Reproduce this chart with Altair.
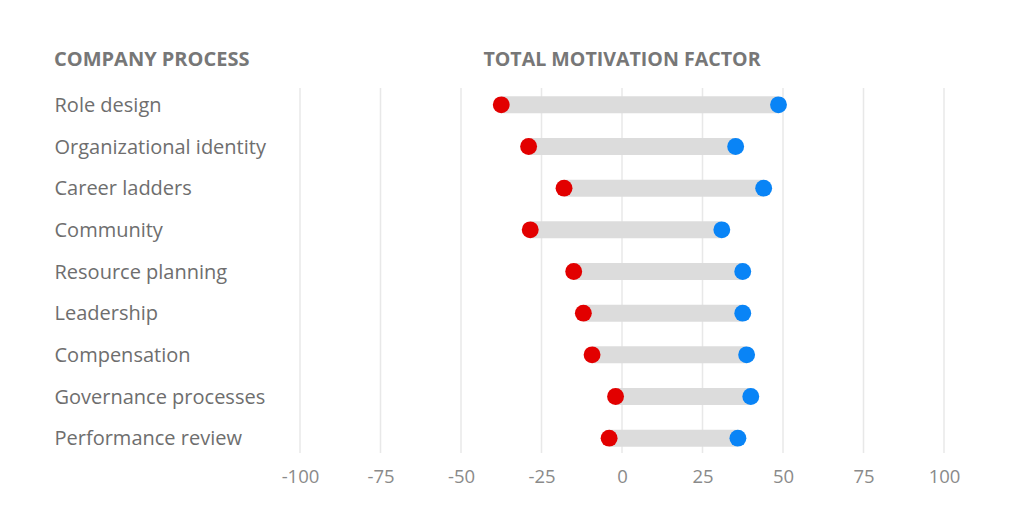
import altair as alt
import pandas as pd

processes = [
    "Role design", "Organizational identity", "Career ladders", "Community",
    "Resource planning", "Leadership", "Compensation", "Governance processes",
    "Performance review",
]
low_values = [-37.5, -29, -18, -28.5, -15, -12, -9.3, -2, -4]
high_values = [48.6, 35.3, 44, 31, 37.5, 37.5, 38.7, 40, 36]
tick_values = [-100, -75, -50, -25, 0, 25, 50, 75, 100]
left_header = ["COMPANY PROCESS"]
center_header = ["TOTAL MOTIVATION FACTOR"]

df = pd.DataFrame({"process": processes, "low": low_values, "high": high_values})
ticks = pd.DataFrame({"tick": tick_values})

FONT = "Open Sans"
RED = "#e20000"
BLUE = "#0984f6"

x_scale = alt.Scale(domain=[-100, 100], nice=False, zero=False)
y_scale = alt.Scale(domain=processes, paddingInner=0, paddingOuter=0)

grid = alt.Chart(ticks).mark_rule(color="#e8e8e8", strokeWidth=1.5).encode(
    x=alt.X("tick:Q", scale=x_scale,
            axis=alt.Axis(values=tick_values, grid=False, domain=False, ticks=False,
                          tickSize=0, labelPadding=8, labelFontSize=18.5, labelFont=FONT,
                          labelFlush=False, labelOverlap=False,
                          labelColor="#8a8a8a", labelExpr="'' + datum.value", title=None)),
    y=alt.value(4),
    y2=alt.value(369),
)

bars = alt.Chart(df).mark_rule(color="#dcdcdc", strokeWidth=17, strokeCap="butt").encode(
    x=alt.X("low:Q", scale=x_scale),
    x2="high:Q",
    y=alt.Y("process:N", scale=y_scale, sort=processes,
            axis=alt.Axis(domain=False, ticks=False, tickSize=0, labelAlign="left",
                          labelPadding=246, labelFontSize=20, labelFont=FONT, labelOffset=1,
                          labelColor="#6e6e6e", title=None, labelLimit=300)),
)

red_dots = alt.Chart(df).mark_circle(color=RED, size=285, opacity=1).encode(
    x=alt.X("low:Q", scale=x_scale),
    y=alt.Y("process:N", scale=y_scale, sort=processes),
)
blue_dots = alt.Chart(df).mark_circle(color=BLUE, size=285, opacity=1).encode(
    x=alt.X("high:Q", scale=x_scale),
    y=alt.Y("process:N", scale=y_scale, sort=processes),
)

h1 = alt.Chart(pd.DataFrame({"t": left_header})).mark_text(
    align="left", baseline="middle", font=FONT, fontSize=20, fontWeight="bold", color="#777777"
).encode(text="t:N", x=alt.value(-246), y=alt.value(-24))

h2 = alt.Chart(pd.DataFrame({"t": center_header})).mark_text(
    align="center", baseline="middle", font=FONT, fontSize=19.6, fontWeight="bold", color="#777777"
).encode(text="t:N", x=alt.value(322), y=alt.value(-24))

chart = alt.layer(grid, bars, red_dots, blue_dots, h1, h2).properties(
    width=644, height=375,
    autosize=alt.AutoSizeParams(type="none"),
    padding={"left": 292, "top": 76, "right": 64, "bottom": 56},
).configure(background="white").configure_view(stroke=None)

chart.save("out.html", embed_options={"renderer": "svg", "actions": False})
